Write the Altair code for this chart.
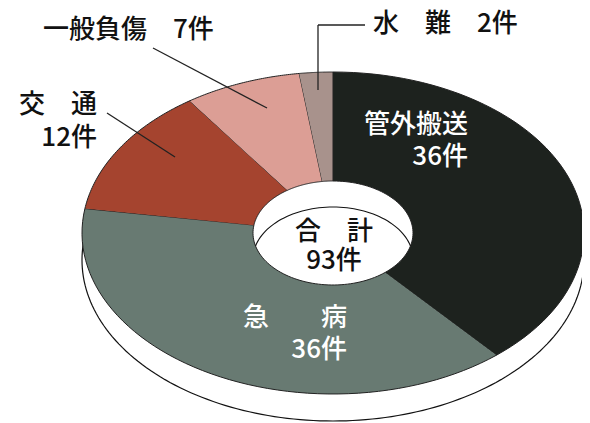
import math
import altair as alt
import pandas as pd

# ---- data ----
categories = ["管外搬送", "急病", "交通", "一般負傷", "水難"]
display_names = ["管外搬送", "急　　病", "交　通", "一般負傷", "水　難"]
counts = [36, 36, 12, 7, 2]
colors = ["#1d221e", "#687a72", "#a5442f", "#dc9e95", "#a8928c"]
total_label = "合　計"

# ---- geometry / style (reference pixel space) ----
W, H = 574, 415
CX, CY = 333, 233          # centre of the top face
RX, RY = 251, 161          # outer ellipse radii
HX, HY = 80, 52            # hole radii
DEPTH = 27                 # thickness of the disc
HOLE_DEPTH = 26
N = 60                     # points per arc
FONT = "Noto Sans CJK JP"
FS = 26

xs = alt.Scale(domain=[8, 8 + W], nice=False, zero=False)
ys = alt.Scale(domain=[8, 8 + H], nice=False, zero=False, reverse=True)

def X(f):
    return alt.X(f, type="quantitative", scale=xs, axis=None)

def Y(f):
    return alt.Y(f, type="quantitative", scale=ys, axis=None)

# slice table
slices = pd.DataFrame({
    "idx": list(range(len(categories))),
    "cat": categories,
    "value": counts,
    "k": [list(range(2 * N + 2)) for _ in categories],
})

slice_layer = (
    alt.Chart(slices)
    .transform_window(cum="sum(value)", sort=[{"field": "idx"}], frame=[None, 0])
    .transform_joinaggregate(total="sum(value)")
    .transform_calculate(
        a1="2*PI*datum.cum/datum.total",
        a0="2*PI*(datum.cum-datum.value)/datum.total",
    )
    .transform_flatten(["k"])
    .transform_calculate(
        th=f"datum.k<={N} ? datum.a0+(datum.a1-datum.a0)*datum.k/{N} : datum.a1-(datum.a1-datum.a0)*(datum.k-{N}-1)/{N}",
        rx=f"datum.k<={N} ? {RX} : {HX}",
        ry=f"datum.k<={N} ? {RY} : {HY}",
    )
    .transform_calculate(
        px=f"{CX}+datum.rx*sin(datum.th)",
        py=f"{CY}-datum.ry*cos(datum.th)",
    )
    .mark_line(filled=True, stroke="#222222", strokeWidth=1, strokeJoin="round")
    .encode(
        x=X("px"),
        y=Y("py"),
        order=alt.Order("k:Q"),
        detail="cat:N",
        color=alt.Color("cat:N", scale=alt.Scale(domain=categories, range=colors), legend=None),
    )
)

M = 4 * N
side_layer = (
    alt.Chart(alt.sequence(0, M + 1, as_="k"))
    .transform_calculate(th=f"2*PI*datum.k/{M}")
    .transform_calculate(
        px=f"{CX}+{RX}*sin(datum.th)",
        py=f"{CY + DEPTH}-{RY}*cos(datum.th)",
    )
    .mark_line(filled=True, fill="white", stroke="#111111", strokeWidth=1.2)
    .encode(x=X("px"), y=Y("py"), order=alt.Order("k:Q"))
)

hole_arc = (
    alt.Chart(alt.sequence(0, N + 1, as_="k"))
    .transform_calculate(A=f"acos({HOLE_DEPTH}/(2*{HY}))")
    .transform_calculate(th=f"-datum.A+2*datum.A*datum.k/{N}")
    .transform_calculate(
        px=f"{CX}+{HX}*sin(datum.th)",
        py=f"{CY + HOLE_DEPTH}-{HY}*cos(datum.th)",
    )
    .mark_line(stroke="#111111", strokeWidth=1.1)
    .encode(x=X("px"), y=Y("py"), order=alt.Order("k:Q"))
)

# leader lines (annotation layout)
leaders = pd.DataFrame({
    "x": [153, 107, 365, 318],
    "y": [48, 113, 25, 25],
    "x2": [267, 175, 318, 318],
    "y2": [108, 157, 25, 90],
})
leader_layer = alt.Chart(leaders).mark_rule(color="#222222", strokeWidth=1.3).encode(
    x=X("x"), y=Y("y"), x2="x2:Q", y2="y2:Q"
)

# labels
labels = pd.DataFrame([
    {"t": f"{display_names[3]}　{counts[3]}件", "x": 43, "y": 30, "a": "left", "c": "#111111"},
    {"t": f"{display_names[4]}　{counts[4]}件", "x": 373, "y": 24, "a": "left", "c": "#111111"},
    {"t": display_names[2], "x": 97, "y": 105, "a": "right", "c": "#111111"},
    {"t": f"{counts[2]}件", "x": 97, "y": 138, "a": "right", "c": "#111111"},
    {"t": display_names[0], "x": 468, "y": 125, "a": "right", "c": "#ffffff"},
    {"t": f"{counts[0]}件", "x": 468, "y": 157, "a": "right", "c": "#ffffff"},
    {"t": display_names[1], "x": 347, "y": 318, "a": "right", "c": "#ffffff"},
    {"t": f"{counts[1]}件", "x": 347, "y": 350, "a": "right", "c": "#ffffff"},
    {"t": total_label, "x": 334, "y": 232, "a": "center", "c": "#111111"},
    {"t": f"{sum(counts)}件", "x": 334, "y": 261, "a": "center", "c": "#111111"},
])

text_layers = []
for al in ["left", "right", "center"]:
    text_layers.append(
        alt.Chart(labels[labels["a"] == al])
        .mark_text(align=al, baseline="middle", font=FONT, fontSize=FS, fontWeight=500)
        .encode(x=X("x"), y=Y("y"), text="t:N", color=alt.Color("c:N", scale=None))
    )

chart = (
    alt.layer(side_layer, slice_layer, hole_arc, leader_layer, *text_layers)
    .properties(width=W, height=H, padding=0, autosize=alt.AutoSizeParams(type="none"))
    .configure_view(stroke=None)
)

chart.save("out.html", embed_options={"renderer": "svg", "actions": False})
